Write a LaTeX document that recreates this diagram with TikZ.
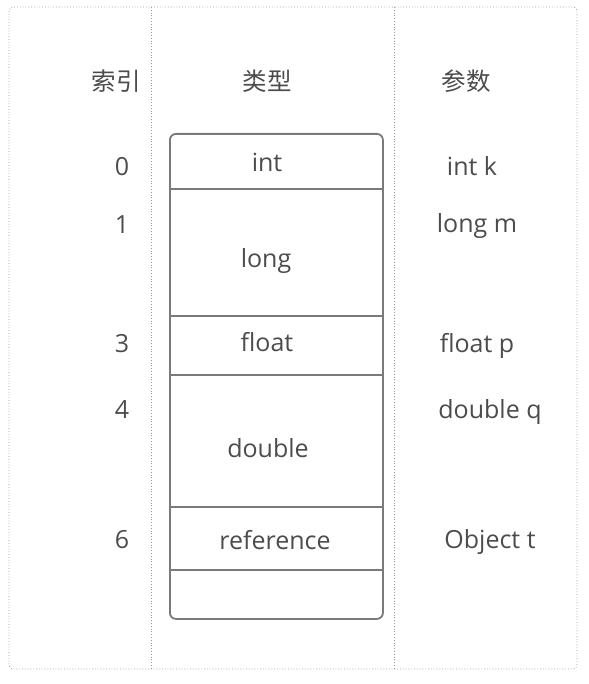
\documentclass[tikz,border=0pt]{standalone}
\usepackage{fontspec}
\setmainfont{Open Sans}
\newfontfamily\cjk{Noto Sans CJK SC}
\begin{document}
\begin{tikzpicture}[x=1pt,y=-1pt,
  txt/.style={text=black!70, font=\fontsize{25}{30}\selectfont, inner sep=0pt, anchor=base},
  hdr/.style={text=black!70, font=\cjk\fontsize{24.5}{29}\selectfont, inner sep=0pt, anchor=center},
  dotline/.style={draw=black!40, line width=0.8pt, dotted},
  cellline/.style={draw=black!52, line width=1.8pt}]
\useasboundingbox (0,0) rectangle (588,684);
% outer dotted frame and column separators
\draw[dotline, rounded corners=4pt] (9,7) rectangle (577,669);
\coordinate (s1t) at (151,7);  \coordinate (s1b) at (151,669);
\coordinate (s2t) at (394,7);  \coordinate (s2b) at (394,669);
\draw[dotline] (s1t) -- (s1b);
\draw[dotline] (s2t) -- (s2b);
% stack cells
\node[cellline, rounded corners=6pt, minimum width=213pt, minimum height=485pt, inner sep=0pt, anchor=north west] (stack) at (169,133) {};
\foreach \yy/\nm in {189/d1,316/d2,375/d3,507/d4,570/d5}{
  \coordinate (\nm l) at (169,\yy);
  \coordinate (\nm r) at (382,\yy);
  \draw[cellline] (\nm l) -- (\nm r);
}
% headers
\node[hdr] (h1) at (116,81) {索引};
\node[hdr] (h2) at (267,81) {类型};
\node[hdr] (h3) at (466,81) {参数};
% index column
\node[txt] (i0) at (122,176) {0};
\node[txt] (i1) at (122,234) {1};
\node[txt] (i3) at (122,352) {3};
\node[txt] (i4) at (122,418) {4};
\node[txt] (i6) at (122,548) {6};
% type column
\node[txt] (t1) at (267,172) {int};
\node[txt] (t2) at (266,267) {long};
\node[txt] (t3) at (267,351) {float};
\node[txt] (t4) at (268,457) {double};
\node[txt] (t5) at (275,549) {reference};
% parameter column
\node[txt] (p1) at (472,176) {int k};
\node[txt] (p2) at (477,233) {long m};
\node[txt] (p3) at (477,352) {float p};
\node[txt] (p4) at (490,418) {double q};
\node[txt] (p5) at (490,548) {Object t};
\end{tikzpicture}
\end{document}
